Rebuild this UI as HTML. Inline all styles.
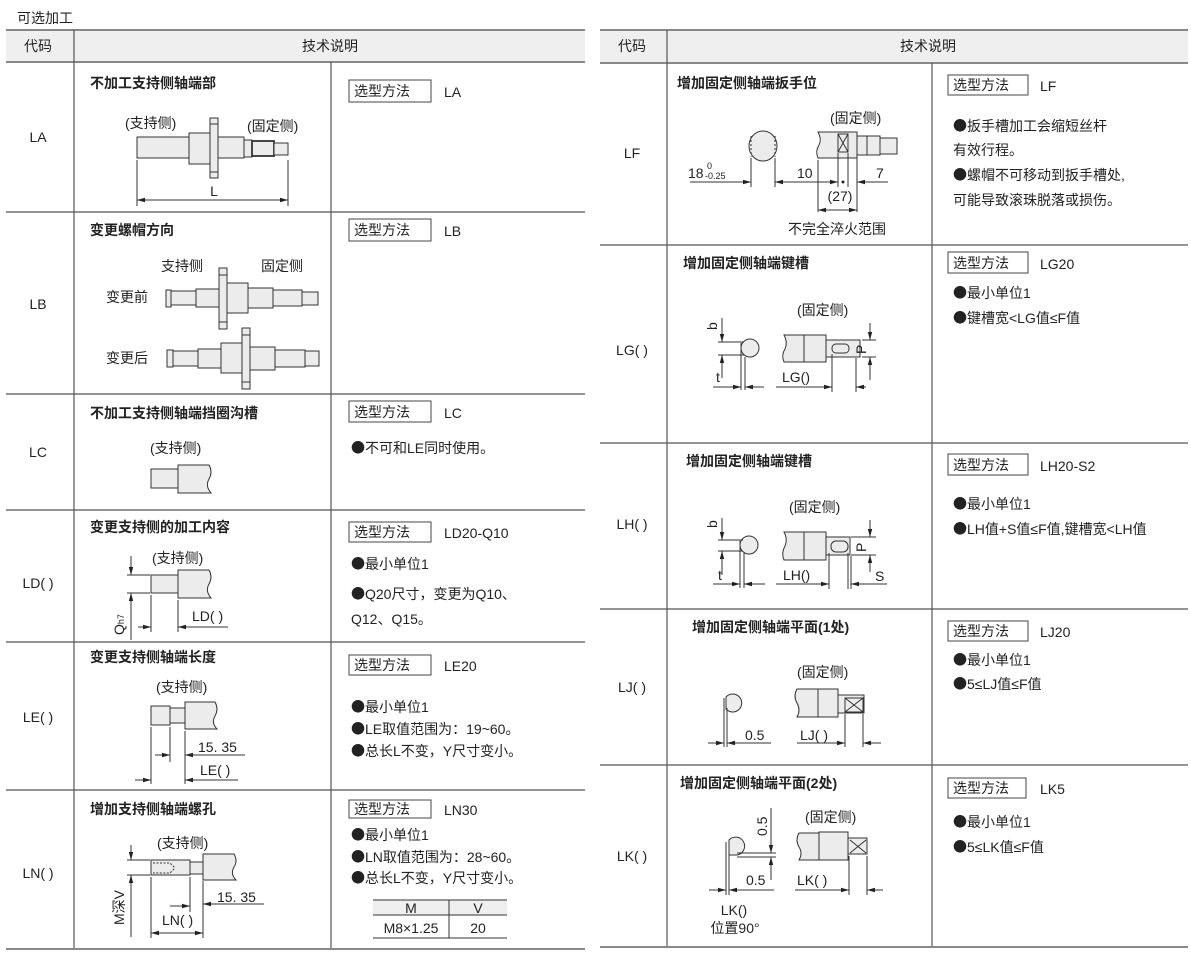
<!DOCTYPE html>
<html><head><meta charset="utf-8"><style>
html,body{margin:0;padding:0;background:#fff;}
svg{display:block;}
text{font-family:"Liberation Sans","Noto Sans CJK SC",sans-serif;fill:#222;font-size:14px;}
.d{font-family:"Noto Sans CJK SC","WenQuanYi Zen Hei",sans-serif;}
.sm{font-size:9px;}
.b{font-weight:bold;}
.s{fill:#ececec;stroke:#333;stroke-width:1;}
.l{stroke:#333;stroke-width:1;fill:none;}
.g{stroke:#555;stroke-width:1.2;}
.h{stroke:#888;stroke-width:2;}
.bx{fill:none;stroke:#444;stroke-width:1;}
</style></head><body>
<svg width="1191" height="954" viewBox="0 0 1191 954" xmlns="http://www.w3.org/2000/svg">
<defs><marker id="a" markerWidth="8" markerHeight="6" refX="8" refY="3" orient="auto" markerUnits="userSpaceOnUse"><path d="M0,0.8 L8,3 L0,5.2z" fill="#222"/></marker></defs>

<text x="17" y="23">可选加工</text>
<!-- LEFT TABLE -->
<rect x="6" y="30" width="579" height="32" fill="#efefef"/>
<line class="h" x1="6" y1="30" x2="585" y2="30"/><line class="h" x1="6" y1="62" x2="585" y2="62"/>
<line class="g" x1="74" y1="30" x2="74" y2="949"/><line class="g" x1="331" y1="62" x2="331" y2="949"/>
<line class="g" x1="6" y1="212" x2="585" y2="212"/><line class="g" x1="6" y1="394" x2="585" y2="394"/>
<line class="g" x1="6" y1="510" x2="585" y2="510"/><line class="g" x1="6" y1="642" x2="585" y2="642"/>
<line class="g" x1="6" y1="790" x2="585" y2="790"/><line class="h" x1="6" y1="949" x2="585" y2="949"/>
<text x="38" y="51" text-anchor="middle">代码</text><text x="330" y="51" text-anchor="middle">技术说明</text>

<!-- LA -->
<text x="38" y="142" text-anchor="middle">LA</text>
<text class="b" x="90" y="88">不加工支持侧轴端部</text>
<rect class="bx" x="349" y="80" width="82" height="22"/><text x="354" y="96">选型方法</text><text x="444" y="97">LA</text>
<text x="125" y="128">(支持侧)</text><text x="247" y="131">(固定侧)</text>
<rect class="s" x="137" y="137" width="52" height="21"/>
<rect class="s" x="189" y="133" width="21" height="31"/>
<rect class="s" x="210" y="118" width="8" height="60"/><line class="l" x1="210" y1="124" x2="218" y2="124"/><line class="l" x1="210" y1="172" x2="218" y2="172"/>
<rect class="s" x="218" y="137" width="26" height="21"/>
<rect class="s" x="244" y="140" width="8" height="17"/>
<rect class="s" x="252" y="141" width="22" height="15" style="stroke-width:1.8"/>
<rect class="s" x="274" y="143" width="14" height="12"/>
<line class="l" x1="137" y1="160" x2="137" y2="206"/><line class="l" x1="288" y1="160" x2="288" y2="206"/>
<line class="l" x1="160" y1="200" x2="137" y2="200" marker-end="url(#a)"/><line class="l" x1="160" y1="200" x2="288" y2="200" marker-end="url(#a)"/>
<text x="214" y="196" text-anchor="middle">L</text>

<!-- LB -->
<text x="38" y="309" text-anchor="middle">LB</text>
<text class="b" x="90" y="235">变更螺帽方向</text>
<rect class="bx" x="349" y="219" width="82" height="22"/><text x="354" y="235">选型方法</text><text x="444" y="236">LB</text>
<text x="161" y="271">支持侧</text><text x="261" y="271">固定侧</text>
<text x="106" y="302">变更前</text><text x="106" y="363">变更后</text>
<rect class="s" x="166" y="290" width="5" height="17"/>
<rect class="s" x="171" y="291" width="25" height="14"/>
<rect class="s" x="196" y="289" width="23" height="18"/>
<rect class="s" x="227" y="283" width="21" height="30"/>
<rect class="s" x="219" y="268" width="8" height="61"/><line class="l" x1="219" y1="275" x2="227" y2="275"/><line class="l" x1="219" y1="322" x2="227" y2="322"/>
<rect class="s" x="248" y="288" width="25" height="20"/>
<rect class="s" x="273" y="290" width="29" height="16"/>
<rect class="s" x="302" y="292" width="16" height="13"/>
<rect class="s" x="167" y="350" width="6" height="17"/>
<rect class="s" x="173" y="351" width="25" height="15"/>
<rect class="s" x="198" y="349" width="23" height="19"/>
<rect class="s" x="221" y="343" width="21" height="30"/>
<rect class="s" x="242" y="328" width="8" height="61"/><line class="l" x1="242" y1="335" x2="250" y2="335"/><line class="l" x1="242" y1="382" x2="250" y2="382"/>
<rect class="s" x="250" y="347" width="25" height="23"/>
<rect class="s" x="275" y="350" width="30" height="17"/>
<rect class="s" x="305" y="351" width="14" height="15"/>

<!-- LC -->
<text x="38" y="457" text-anchor="middle">LC</text>
<text class="b" x="90" y="418">不加工支持侧轴端挡圈沟槽</text>
<rect class="bx" x="349" y="401" width="82" height="21"/><text x="354" y="417">选型方法</text><text x="444" y="418">LC</text>
<text x="351" y="453"><tspan class="d">●</tspan>不可和LE同时使用。</text>
<text x="150" y="453">(支持侧)</text>
<rect class="s" x="151" y="469" width="27" height="19"/>
<path class="s" d="M178,465 H209 q4,7 0,14 q-4,7 2,14 H178z"/>

<!-- LD -->
<text x="38" y="588" text-anchor="middle">LD( )</text>
<text class="b" x="90" y="532">变更支持侧的加工内容</text>
<rect class="bx" x="349" y="522" width="82" height="20"/><text x="354" y="537">选型方法</text><text x="444" y="538">LD20-Q10</text>
<text x="351" y="569"><tspan class="d">●</tspan>最小单位1</text><text x="351" y="599"><tspan class="d">●</tspan>Q20尺寸，变更为Q10、</text><text x="351" y="624">Q12、Q15。</text>
<text x="152" y="563">(支持侧)</text>
<rect class="s" x="151" y="575" width="27" height="18"/>
<path class="s" d="M178,570 H209 q4,7 0,14 q-4,7 2,14 H178z"/>
<line class="l" x1="127" y1="575" x2="150" y2="575"/><line class="l" x1="127" y1="593" x2="150" y2="593"/>
<line class="l" x1="131" y1="556" x2="131" y2="575" marker-end="url(#a)"/><line class="l" x1="131" y1="640" x2="131" y2="593" marker-end="url(#a)"/>
<text x="0" y="0" transform="translate(124,635) rotate(-90)">Q<tspan class="sm">h7</tspan></text>
<line class="l" x1="151" y1="595" x2="151" y2="632"/><line class="l" x1="178" y1="600" x2="178" y2="632"/>
<line class="l" x1="138" y1="627" x2="151" y2="627" marker-end="url(#a)"/><line class="l" x1="228" y1="627" x2="178" y2="627" marker-end="url(#a)"/>
<text x="192" y="621">LD( )</text>

<!-- LE -->
<text x="38" y="722" text-anchor="middle">LE( )</text>
<text class="b" x="90" y="662">变更支持侧轴端长度</text>
<rect class="bx" x="349" y="655" width="82" height="20"/><text x="354" y="670">选型方法</text><text x="444" y="671">LE20</text>
<text x="351" y="712"><tspan class="d">●</tspan>最小单位1</text><text x="351" y="734"><tspan class="d">●</tspan>LE取值范围为：19~60。</text><text x="351" y="756"><tspan class="d">●</tspan>总长L不变，Y尺寸变小。</text>
<text x="156" y="692">(支持侧)</text>
<rect class="s" x="151" y="706" width="19" height="19"/>
<rect class="s" x="170" y="708" width="15" height="15"/>
<path class="s" d="M185,702 H215 q4,7 0,14 q-4,7 2,13 H185z"/>
<line class="l" x1="151" y1="727" x2="151" y2="784"/><line class="l" x1="170" y1="727" x2="170" y2="762"/><line class="l" x1="185" y1="731" x2="185" y2="784"/>
<line class="l" x1="155" y1="755" x2="170" y2="755" marker-end="url(#a)"/><line class="l" x1="245" y1="755" x2="185" y2="755" marker-end="url(#a)"/>
<text x="198" y="752">15. 35</text>
<line class="l" x1="135" y1="780" x2="151" y2="780" marker-end="url(#a)"/><line class="l" x1="238" y1="780" x2="185" y2="780" marker-end="url(#a)"/>
<text x="200" y="775">LE( )</text>

<!-- LN -->
<text x="38" y="878" text-anchor="middle">LN( )</text>
<text class="b" x="90" y="814">增加支持侧轴端螺孔</text>
<rect class="bx" x="349" y="800" width="82" height="18"/><text x="354" y="814">选型方法</text><text x="444" y="815">LN30</text>
<text x="351" y="840"><tspan class="d">●</tspan>最小单位1</text><text x="351" y="862"><tspan class="d">●</tspan>LN取值范围为：28~60。</text><text x="351" y="883"><tspan class="d">●</tspan>总长L不变，Y尺寸变小。</text>
<rect x="373" y="900" width="134" height="15" fill="#efefef"/>
<line class="l" x1="373" y1="900" x2="507" y2="900"/><line class="l" x1="373" y1="915" x2="507" y2="915"/><line class="l" x1="373" y1="938" x2="507" y2="938"/><line class="l" x1="449" y1="900" x2="449" y2="938"/>
<text x="411" y="913" text-anchor="middle">M</text><text x="478" y="913" text-anchor="middle">V</text>
<text x="411" y="933" text-anchor="middle">M8×1.25</text><text x="478" y="933" text-anchor="middle">20</text>
<text x="157" y="848">(支持侧)</text>
<rect class="s" x="151" y="860" width="39" height="15"/>
<path d="M153,863 H170 l4,4 v2 l-4,4 H153" fill="none" stroke="#333" stroke-dasharray="2,1.5"/>
<rect class="s" x="190" y="862" width="13" height="12"/>
<path class="s" d="M203,854 H234 q4,7 0,13 q-4,7 2,13 H203z"/>
<line class="l" x1="127" y1="860" x2="150" y2="860"/><line class="l" x1="127" y1="875" x2="150" y2="875"/>
<line class="l" x1="131" y1="845" x2="131" y2="860" marker-end="url(#a)"/><line class="l" x1="131" y1="937" x2="131" y2="875" marker-end="url(#a)"/>
<text x="0" y="0" transform="translate(124,925) rotate(-90)">M深V</text>
<line class="l" x1="151" y1="877" x2="151" y2="938"/><line class="l" x1="190" y1="877" x2="190" y2="912"/><line class="l" x1="203" y1="881" x2="203" y2="938"/>
<line class="l" x1="170" y1="906" x2="190" y2="906" marker-end="url(#a)"/><line class="l" x1="264" y1="904" x2="203" y2="904" marker-end="url(#a)"/>
<text x="217" y="902">15. 35</text>
<line class="l" x1="177" y1="933" x2="151" y2="933" marker-end="url(#a)"/><line class="l" x1="177" y1="933" x2="203" y2="933" marker-end="url(#a)"/>
<text x="162" y="925">LN( )</text>

<!-- RIGHT TABLE -->
<rect x="600" y="30" width="588" height="33" fill="#efefef"/>
<line class="h" x1="600" y1="30" x2="1188" y2="30"/><line class="h" x1="600" y1="63" x2="1188" y2="63"/>
<line class="g" x1="667" y1="30" x2="667" y2="947"/><line class="g" x1="932" y1="63" x2="932" y2="947"/>
<line class="g" x1="600" y1="245" x2="1188" y2="245"/><line class="g" x1="600" y1="443" x2="1188" y2="443"/>
<line class="g" x1="600" y1="609" x2="1188" y2="609"/><line class="g" x1="600" y1="765" x2="1188" y2="765"/>
<line class="h" x1="600" y1="947" x2="1188" y2="947"/>
<text x="632" y="51" text-anchor="middle">代码</text><text x="928" y="51" text-anchor="middle">技术说明</text>

<!-- LF -->
<text x="632" y="158" text-anchor="middle">LF</text>
<text class="b" x="677" y="88">增加固定侧轴端扳手位</text>
<rect class="bx" x="948" y="75" width="80" height="20"/><text x="953" y="90">选型方法</text><text x="1040" y="91">LF</text>
<text x="953" y="131"><tspan class="d">●</tspan>扳手槽加工会缩短丝杆</text><text x="953" y="155">有效行程。</text>
<text x="953" y="180"><tspan class="d">●</tspan>螺帽不可移动到扳手槽处,</text><text x="953" y="205">可能导致滚珠脱落或损伤。</text>
<ellipse class="s" cx="763" cy="146" rx="14" ry="15"/>
<line x1="751" y1="136" x2="751" y2="157" stroke="#333" stroke-dasharray="2,2"/><line x1="775" y1="136" x2="775" y2="157" stroke="#333" stroke-dasharray="2,2"/>
<line class="l" x1="751" y1="158" x2="751" y2="187"/><line class="l" x1="775" y1="158" x2="775" y2="187"/>
<line class="l" x1="690" y1="182" x2="751" y2="182" marker-end="url(#a)"/><line class="l" x1="796" y1="182" x2="775" y2="182" marker-end="url(#a)"/>
<text x="688" y="178">18</text><text class="sm" x="707" y="169">0</text><text class="sm" x="705" y="179">-0.25</text>
<text x="830" y="123">(固定侧)</text>
<path class="s" d="M818,132 H857 V158 H818 q-3,-7 1,-13 q3,-6 -1,-13z"/>
<rect class="s" x="838" y="134" width="10" height="18"/><path class="l" d="M838,134 L848,152 M848,134 L838,152"/>
<rect class="s" x="857" y="136" width="23" height="19"/><line class="l" x1="867" y1="136" x2="867" y2="155"/>
<rect class="s" x="880" y="138" width="17" height="16"/>
<line class="l" x1="818" y1="160" x2="818" y2="212"/><line class="l" x1="838" y1="153" x2="838" y2="187"/><line class="l" x1="848" y1="153" x2="848" y2="187"/><line class="l" x1="857" y1="156" x2="857" y2="212"/>
<line class="l" x1="796" y1="182" x2="838" y2="182" marker-end="url(#a)"/><line class="l" x1="888" y1="182" x2="857" y2="182" marker-end="url(#a)"/>
<circle cx="843" cy="182" r="1.5" fill="#222"/>
<text x="797" y="178">10</text><text x="876" y="178">7</text>
<text x="840" y="201" text-anchor="middle">(27)</text>
<line class="l" x1="838" y1="210" x2="818" y2="210" marker-end="url(#a)"/><line class="l" x1="838" y1="210" x2="857" y2="210" marker-end="url(#a)"/>
<text x="837" y="234" text-anchor="middle">不完全淬火范围</text>

<!-- LG -->
<text x="632" y="355" text-anchor="middle">LG( )</text>
<text class="b" x="683" y="268">增加固定侧轴端键槽</text>
<rect class="bx" x="948" y="252" width="80" height="21"/><text x="953" y="268">选型方法</text><text x="1040" y="269">LG20</text>
<text x="953" y="298"><tspan class="d">●</tspan>最小单位1</text><text x="953" y="323"><tspan class="d">●</tspan>键槽宽&lt;LG值≤F值</text>
<circle class="s" cx="750" cy="348" r="9"/>
<line class="l" x1="718" y1="342" x2="744" y2="342"/><line class="l" x1="718" y1="355" x2="744" y2="355"/>
<line class="l" x1="722" y1="318" x2="722" y2="342" marker-end="url(#a)"/><line class="l" x1="722" y1="378" x2="722" y2="355" marker-end="url(#a)"/>
<text transform="translate(717,330) rotate(-90)">b</text><text x="716" y="382">t</text>
<line class="l" x1="741" y1="343" x2="741" y2="390"/><line class="l" x1="745" y1="357" x2="745" y2="390"/>
<line class="l" x1="713" y1="387" x2="741" y2="387" marker-end="url(#a)"/><line class="l" x1="764" y1="387" x2="745" y2="387" marker-end="url(#a)"/>
<text x="797" y="315">(固定侧)</text>
<path class="s" d="M784,335 H804 V362 H784 q-3,-7 1,-13 q3,-7 -1,-14z"/>
<rect class="s" x="804" y="335" width="22" height="27"/>
<rect class="s" x="826" y="340" width="34" height="17"/>
<rect class="s" x="832" y="344" width="17" height="9" rx="4"/>
<line class="l" x1="862" y1="340" x2="876" y2="340"/><line class="l" x1="862" y1="357" x2="876" y2="357"/>
<line class="l" x1="870" y1="323" x2="870" y2="340" marker-end="url(#a)"/><line class="l" x1="870" y1="380" x2="870" y2="357" marker-end="url(#a)"/>
<text transform="translate(866,354) rotate(-90)">P</text>
<line class="l" x1="832" y1="354" x2="832" y2="392"/><line class="l" x1="856" y1="358" x2="856" y2="392"/>
<line class="l" x1="776" y1="387" x2="832" y2="387" marker-end="url(#a)"/><line class="l" x1="866" y1="387" x2="856" y2="387" marker-end="url(#a)"/>
<text x="782" y="382">LG()</text>

<!-- LH -->
<text x="632" y="529" text-anchor="middle">LH( )</text>
<text class="b" x="686" y="466">增加固定侧轴端键槽</text>
<rect class="bx" x="948" y="454" width="80" height="21"/><text x="953" y="470">选型方法</text><text x="1040" y="471">LH20-S2</text>
<text x="953" y="509"><tspan class="d">●</tspan>最小单位1</text><text x="953" y="534"><tspan class="d">●</tspan>LH值+S值≤F值,键槽宽&lt;LH值</text>
<circle class="s" cx="749" cy="545" r="9"/>
<line class="l" x1="718" y1="540" x2="743" y2="540"/><line class="l" x1="718" y1="551" x2="743" y2="551"/>
<line class="l" x1="722" y1="518" x2="722" y2="540" marker-end="url(#a)"/><line class="l" x1="722" y1="575" x2="722" y2="551" marker-end="url(#a)"/>
<text transform="translate(717,528) rotate(-90)">b</text><text x="718" y="580">t</text>
<line class="l" x1="740" y1="541" x2="740" y2="588"/><line class="l" x1="744" y1="553" x2="744" y2="588"/>
<line class="l" x1="713" y1="584" x2="740" y2="584" marker-end="url(#a)"/><line class="l" x1="765" y1="584" x2="744" y2="584" marker-end="url(#a)"/>
<text x="789" y="512">(固定侧)</text>
<path class="s" d="M784,532 H804 V560 H784 q-3,-7 1,-14 q3,-7 -1,-14z"/>
<rect class="s" x="804" y="532" width="22" height="28"/>
<rect class="s" x="826" y="537" width="24" height="18"/>
<rect class="s" x="831" y="541" width="17" height="11" rx="5"/>
<line class="l" x1="851" y1="537" x2="876" y2="537"/><line class="l" x1="851" y1="555" x2="876" y2="555"/>
<line class="l" x1="870" y1="520" x2="870" y2="537" marker-end="url(#a)"/><line class="l" x1="870" y1="572" x2="870" y2="555" marker-end="url(#a)"/>
<text transform="translate(866,552) rotate(-90)">P</text><text x="875" y="581">S</text>
<line class="l" x1="829" y1="553" x2="829" y2="589"/><line class="l" x1="848" y1="553" x2="848" y2="589"/><line class="l" x1="851" y1="556" x2="851" y2="589"/>
<line class="l" x1="776" y1="584" x2="829" y2="584" marker-end="url(#a)"/><line class="l" x1="887" y1="584" x2="851" y2="584" marker-end="url(#a)"/>
<text x="783" y="580">LH()</text>

<!-- LJ -->
<text x="632" y="692" text-anchor="middle">LJ( )</text>
<text class="b" x="692" y="632">增加固定侧轴端平面(1处)</text>
<rect class="bx" x="948" y="621" width="80" height="20"/><text x="953" y="636">选型方法</text><text x="1040" y="637">LJ20</text>
<text x="953" y="665"><tspan class="d">●</tspan>最小单位1</text><text x="953" y="689"><tspan class="d">●</tspan>5≤LJ值≤F值</text>
<path class="s" d="M726,697 A9,9 0 1 1 726,709 Z"/>
<line class="l" x1="724" y1="698" x2="724" y2="747"/><line class="l" x1="727" y1="708" x2="727" y2="747"/>
<line class="l" x1="708" y1="743" x2="724" y2="743" marker-end="url(#a)"/><line class="l" x1="771" y1="743" x2="727" y2="743" marker-end="url(#a)"/>
<text x="745" y="740">0.5</text>
<text x="797" y="677">(固定侧)</text>
<path class="s" d="M797,689 H818 V717 H797 q4,-7 0,-14 q-4,-7 0,-14z"/>
<rect class="s" x="818" y="689" width="20" height="28"/>
<rect class="s" x="838" y="695" width="26" height="18"/>
<rect class="s" x="845" y="698" width="18" height="14"/><path class="l" d="M845,698 L863,712 M863,698 L845,712"/>
<line class="l" x1="845" y1="714" x2="845" y2="747"/><line class="l" x1="863" y1="714" x2="863" y2="747"/>
<line class="l" x1="797" y1="743" x2="845" y2="743" marker-end="url(#a)"/><line class="l" x1="881" y1="743" x2="863" y2="743" marker-end="url(#a)"/>
<text x="800" y="740">LJ( )</text>

<!-- LK -->
<text x="632" y="861" text-anchor="middle">LK( )</text>
<text class="b" x="680" y="788">增加固定侧轴端平面(2处)</text>
<rect class="bx" x="948" y="778" width="78" height="20"/><text x="953" y="793">选型方法</text><text x="1040" y="794">LK5</text>
<text x="953" y="827"><tspan class="d">●</tspan>最小单位1</text><text x="953" y="852"><tspan class="d">●</tspan>5≤LK值≤F值</text>
<path class="s" d="M729,840 A9,9 0 1 1 737,855 L729,855 Z"/>
<line class="l" x1="737" y1="853" x2="776" y2="853"/><line class="l" x1="737" y1="857" x2="776" y2="857"/>
<line class="l" x1="771" y1="808" x2="771" y2="853" marker-end="url(#a)"/><line class="l" x1="771" y1="880" x2="771" y2="857" marker-end="url(#a)"/>
<text transform="translate(767,836) rotate(-90)">0.5</text>
<line class="l" x1="726" y1="842" x2="726" y2="895"/><line class="l" x1="729" y1="855" x2="729" y2="895"/>
<line class="l" x1="709" y1="890" x2="726" y2="890" marker-end="url(#a)"/><line class="l" x1="774" y1="890" x2="729" y2="890" marker-end="url(#a)"/>
<text x="746" y="885">0.5</text>
<text x="734" y="915" text-anchor="middle">LK()</text><text x="735" y="933" text-anchor="middle">位置90°</text>
<text x="805" y="822">(固定侧)</text>
<path class="s" d="M799,833 H819 V860 H799 q4,-7 0,-13 q-4,-7 0,-14z"/>
<rect class="s" x="819" y="832" width="29" height="28"/>
<rect class="s" x="848" y="838" width="19" height="16"/><path class="l" d="M850,840 L866,853 M866,840 L850,853"/>
<line class="l" x1="849" y1="856" x2="849" y2="895"/><line class="l" x1="867" y1="856" x2="867" y2="895"/>
<line class="l" x1="795" y1="890" x2="849" y2="890" marker-end="url(#a)"/><line class="l" x1="883" y1="890" x2="867" y2="890" marker-end="url(#a)"/>
<text x="797" y="885">LK( )</text>
</svg>
</body></html>
